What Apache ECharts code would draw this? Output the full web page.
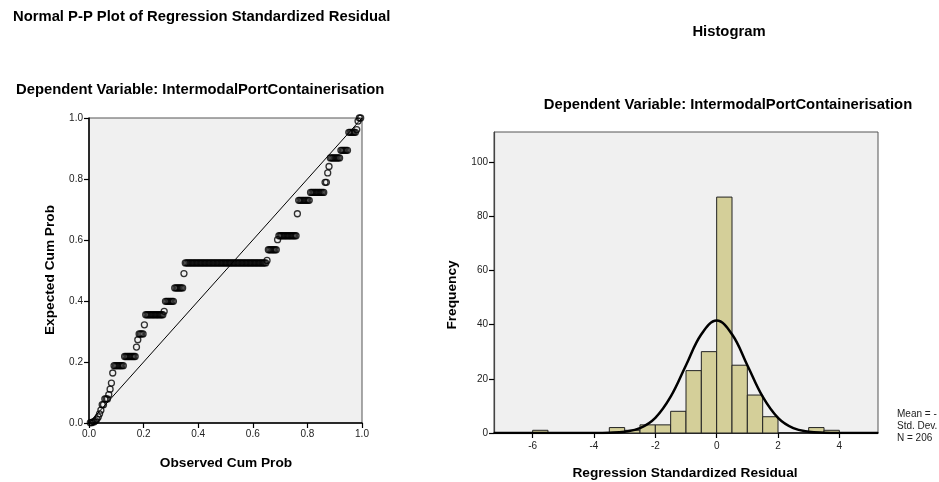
<!DOCTYPE html>
<html>
<head>
<meta charset="utf-8">
<script src="https://cdn.jsdelivr.net/npm/echarts@6/dist/echarts.min.js"></script>
<style>
html,body{margin:0;padding:0;background:#fff;}
#chart{width:939px;height:482px;}
</style>
</head>
<body>
<div id="chart"></div>
<script>
// ---- P-P plot data: expected cum prob levels and number of tied cases at each level ----
const ppExpected = [0.001,0.004,0.008,0.013,0.020,0.030,0.042,0.060,0.079,0.093,0.111,0.131,0.164,
  0.188,0.218,0.249,0.273,0.292,0.322,0.355,0.366,0.399,0.443,0.490,0.525,0.533,0.568,0.601,0.614,
  0.686,0.730,0.756,0.789,0.820,0.841,0.869,0.894,0.953,0.962,0.990,1.000];
const ppTies = [2,2,1,1,1,1,1,2,3,1,1,1,1,
  8,9,1,1,4,1,14,1,7,7,1,62,1,7,1,14,
  1,9,11,2,1,1,8,6,6,1,1,2];
const ppTicks = [0, 0.2, 0.4, 0.6, 0.8, 1.0];

// ---- Histogram data ----
const binLower = [-6,-3.5,-3,-2.5,-2,-1.5,-1,-0.5,0,0.5,1,1.5,3,3.5];
const binUpper = [-5.5,-3,-2.5,-2,-1.5,-1,-0.5,0,0.5,1,1.5,2,3.5,4];
const frequency = [1,2,1,3,3,8,23,30,87,25,14,6,2,1];
const histXTicks = [-6,-4,-2,0,2,4];
const histYTicks = [0,20,40,60,80,100];
// normal curve
const curveX = [-7.26,-4,-3.5,-3,-2.5,-2,-1.5,-1,-0.5,0,0.5,1,1.5,2,2.5,3,3.5,4,5.26];
const curveY = [0,0,0.1,0.5,1.8,5.6,13.4,25,36.4,41.5,36.4,25,13.4,5.6,1.8,0.5,0.1,0,0];

// build P-P points: observed cum prob = rank/(N+1)
const N = ppTies.reduce((a,b)=>a+b,0);
const ppPoints = [];
let rank = 0;
ppExpected.forEach((y,i)=>{
  for(let k=0;k<ppTies[i];k++){ rank++; ppPoints.push([rank/(N+1), y]); }
});
const barData = binLower.map((l,i)=>[l, binUpper[i], frequency[i]]);
const curveData = curveX.map((x,i)=>[x, curveY[i]]);

const FONT = 'Arial, "Liberation Sans", sans-serif';
const chart = echarts.init(document.getElementById('chart'));

const axisCommon = {
  type:'value',
  splitLine:{show:false},
  axisLine:{show:true, onZero:false, lineStyle:{color:'#000', width:1.5}},
  axisTick:{show:true, inside:false, length:5, lineStyle:{color:'#000', width:1.2}},
  axisLabel:{color:'#222', fontSize:10, fontFamily:FONT, margin:6}
};

chart.setOption({
  animation:false,
  backgroundColor:'#fff',
  grid:[
    {left:89, top:118, width:273, height:305, show:true, backgroundColor:'#f0f0f0', borderColor:'#555', borderWidth:1},
    {left:494, top:132, width:384, height:301, show:true, backgroundColor:'#f0f0f0', borderColor:'#555', borderWidth:1}
  ],
  xAxis:[
    Object.assign({}, axisCommon, {gridIndex:0, min:0, max:1, interval:0.2,
      axisLabel:Object.assign({}, axisCommon.axisLabel, {formatter:v=>v.toFixed(1), customValues:ppTicks}),
      axisTick:Object.assign({}, axisCommon.axisTick, {customValues:ppTicks})}),
    Object.assign({}, axisCommon, {gridIndex:1, min:-7.26, max:5.26,
      axisLabel:Object.assign({}, axisCommon.axisLabel, {customValues:histXTicks, margin:8}),
      axisTick:Object.assign({}, axisCommon.axisTick, {customValues:histXTicks})})
  ],
  yAxis:[
    Object.assign({}, axisCommon, {gridIndex:0, min:0, max:1, interval:0.2,
      axisLabel:Object.assign({}, axisCommon.axisLabel, {formatter:v=>v.toFixed(1), customValues:ppTicks}),
      axisTick:Object.assign({}, axisCommon.axisTick, {customValues:ppTicks})}),
    Object.assign({}, axisCommon, {gridIndex:1, min:0, max:111,
      axisLine:{show:true, onZero:false, lineStyle:{color:'#444', width:1.2}},
      axisLabel:Object.assign({}, axisCommon.axisLabel, {customValues:histYTicks}),
      axisTick:Object.assign({}, axisCommon.axisTick, {customValues:histYTicks})})
  ],
  series:[
    {type:'line', xAxisIndex:0, yAxisIndex:0, data:[[0,0],[1,1]], symbol:'none',
      lineStyle:{color:'#000', width:1}, z:2},
    {type:'scatter', xAxisIndex:0, yAxisIndex:0, data:ppPoints, symbol:'circle', symbolSize:6,
      itemStyle:{color:'rgba(0,0,0,0)', borderColor:'#000', borderWidth:1.3}, z:3},
    {type:'custom', xAxisIndex:1, yAxisIndex:1, data:barData,
      encode:{x:[0,1], y:2},
      renderItem:function(params, api){
        const p0 = api.coord([api.value(0), api.value(2)]);
        const p1 = api.coord([api.value(1), 0]);
        return {type:'rect', shape:{x:p0[0], y:p0[1], width:p1[0]-p0[0], height:p1[1]-p0[1]},
          style:{fill:'#d4cf99', stroke:'#222', lineWidth:1}};
      }, z:2},
    {type:'line', xAxisIndex:1, yAxisIndex:1, data:curveData, smooth:0.4, symbol:'none',
      lineStyle:{color:'#000', width:2.5}, z:4}
  ],
  graphic:[
    {type:'text', x:13, y:17, style:{text:'Normal P-P Plot of Regression Standardized Residual', font:'bold 14.8px '+FONT, fill:'#000', verticalAlign:'middle'}},
    {type:'text', x:16, y:90, style:{text:'Dependent Variable: IntermodalPortContainerisation', font:'bold 14.8px '+FONT, fill:'#000', verticalAlign:'middle'}},
    {type:'text', x:729, y:32, style:{text:'Histogram', font:'bold 14.8px '+FONT, fill:'#000', align:'center', verticalAlign:'middle'}},
    {type:'text', x:728, y:105, style:{text:'Dependent Variable: IntermodalPortContainerisation', font:'bold 14.8px '+FONT, fill:'#000', align:'center', verticalAlign:'middle'}},
    {type:'text', x:226, y:463, style:{text:'Observed Cum Prob', font:'bold 13.7px '+FONT, fill:'#000', align:'center', verticalAlign:'middle'}},
    {type:'text', x:50, y:270, rotation:Math.PI/2, style:{text:'Expected Cum Prob', font:'bold 13.7px '+FONT, fill:'#000', align:'center', verticalAlign:'middle'}},
    {type:'text', x:685, y:473, style:{text:'Regression Standardized Residual', font:'bold 13.7px '+FONT, fill:'#000', align:'center', verticalAlign:'middle'}},
    {type:'text', x:452, y:295, rotation:Math.PI/2, style:{text:'Frequency', font:'bold 13.7px '+FONT, fill:'#000', align:'center', verticalAlign:'middle'}},
    {type:'text', left:897, top:409, style:{text:'Mean = -', font:'10px '+FONT, fill:'#222'}},
    {type:'text', left:897, top:421, style:{text:'Std. Dev.', font:'10px '+FONT, fill:'#222'}},
    {type:'text', left:897, top:433, style:{text:'N = 206', font:'10px '+FONT, fill:'#222'}}
  ]
});
</script>
</body>
</html>
